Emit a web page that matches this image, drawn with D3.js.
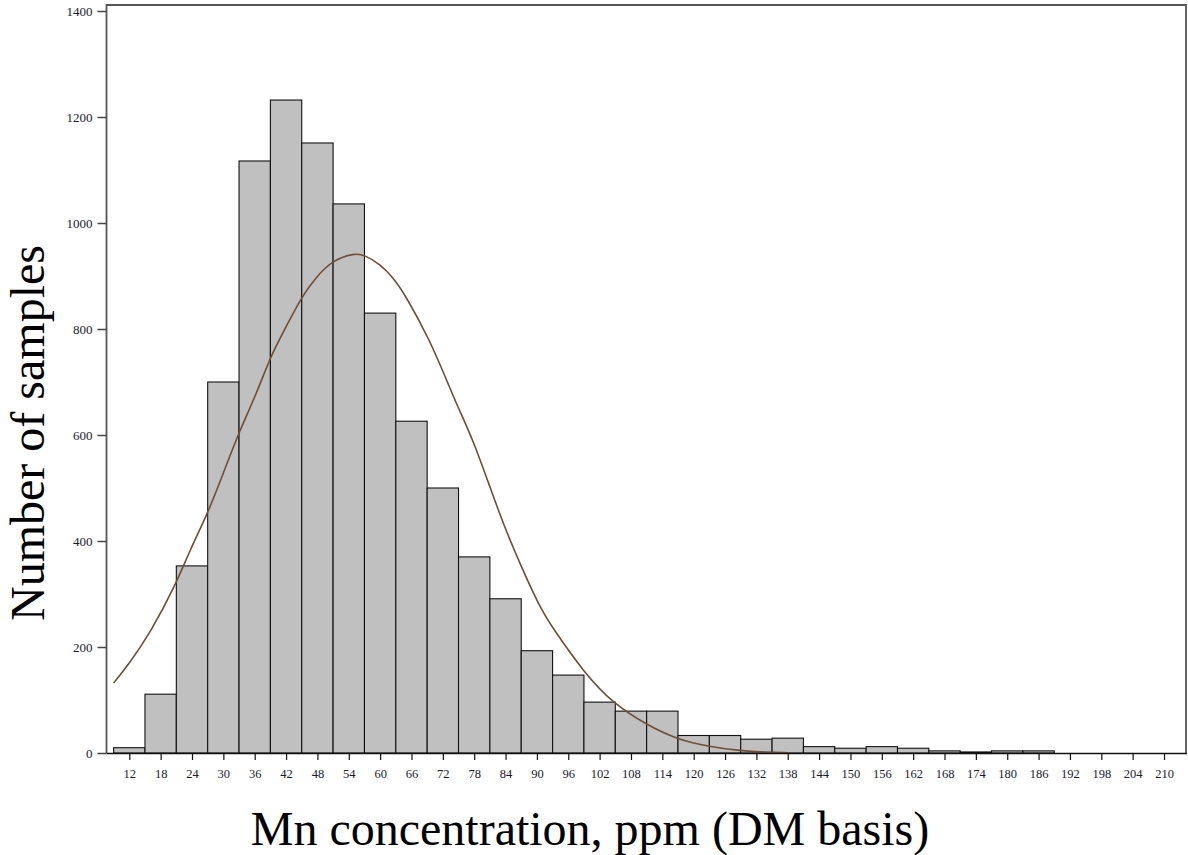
<!DOCTYPE html>
<html>
<head>
<meta charset="utf-8">
<script src="https://cdn.jsdelivr.net/npm/d3@7"></script>
<style>
  html, body { margin: 0; padding: 0; background: #fff; }
  svg { display: block; font-family: "Liberation Serif", "Times New Roman", serif; }
</style>
</head>
<body>
<svg id="chart" width="1188" height="855"></svg>
<script>
// bin centres (ppm) and counts
const binCenters = [12, 18, 24, 30, 36, 42, 48, 54, 60, 66, 72, 78, 84, 90, 96, 102, 108, 114,
  120, 126, 132, 138, 144, 150, 156, 162, 168, 174, 180, 186, 192, 198, 204, 210];
const counts = [10, 111, 353, 700, 1117, 1232, 1151, 1036, 830, 626, 500, 370, 291, 193, 147, 96, 79, 79,
  33, 33, 26, 28, 12, 9, 12, 9, 4, 2, 4, 4, 0, 0, 0, 0];

// fitted curve, points
const curveX = [9, 12, 16, 21, 23.6, 27, 30, 33, 36.4, 39, 42, 45, 47.8, 51, 55, 57, 60, 62.5, 65, 69.5, 72.7,
  75, 77.8, 81, 84, 87, 90.5, 93, 99, 104.5, 111, 117, 123, 129, 134, 138];
const curveY = [132, 169, 226, 320, 383, 452, 528, 606, 679, 748, 804, 861, 899, 930, 943, 940, 922, 897, 861, 779, 704,
  650, 590, 502, 421, 352, 276, 236, 152, 94, 53, 25, 12, 4, 1.5, 0.5];

const yTicks = [0, 200, 400, 600, 800, 1000, 1200, 1400];
const binWidth = 6;

const svg = d3.select("#chart");
const plotLeft = 106.5, plotRight = 1186, plotTop = 5, plotBottom = 753;

const x = d3.scaleLinear().domain([12, 210]).range([129.3, 1164]);
const y = d3.scaleLinear().domain([0, 1400]).range([plotBottom, 11]);

// bars
svg.append("g")
  .selectAll("rect")
  .data(binCenters.map((c, i) => ({c, n: counts[i]})).filter(d => d.n > 0))
  .join("rect")
  .attr("x", d => x(d.c - binWidth / 2))
  .attr("width", d => x(d.c + binWidth / 2) - x(d.c - binWidth / 2))
  .attr("y", d => y(d.n))
  .attr("height", d => y(0) - y(d.n))
  .attr("fill", "#c0c0c0")
  .attr("stroke", "#111")
  .attr("stroke-width", 1.1);

// curve
const line = d3.line()
  .x(d => x(d[0]))
  .y(d => y(d[1]))
  .curve(d3.curveBasis);

svg.append("path")
  .datum(curveX.map((v, i) => [v, curveY[i]]))
  .attr("d", line)
  .attr("fill", "none")
  .attr("stroke", "#6e4f33")
  .attr("stroke-width", 1.6);

// frame
svg.append("path")
  .attr("d", `M${plotLeft},${plotBottom}V${plotTop}H${plotRight}V${plotBottom}`)
  .attr("fill", "none")
  .attr("stroke", "#555")
  .attr("stroke-width", 1.8);

// x axis
const xAxis = d3.axisBottom(x)
  .tickValues(binCenters)
  .tickSize(7)
  .tickPadding(9)
  .tickSizeOuter(0);

const gx = svg.append("g")
  .attr("transform", `translate(0,${plotBottom})`)
  .call(xAxis);
gx.select(".domain").attr("d", `M${plotLeft},0.5H${plotRight + 1}`).attr("stroke", "#111").attr("stroke-width", 1.3);
gx.selectAll(".tick line").attr("stroke", "#111").attr("stroke-width", 1.2);
gx.selectAll(".tick text")
  .attr("font-family", "Liberation Serif, serif")
  .attr("font-size", 12.5)
  .attr("fill", "#1a1a2a");

// y axis
const yAxis = d3.axisLeft(y)
  .tickValues(yTicks)
  .tickFormat(d3.format("d"))
  .tickSize(9)
  .tickPadding(5)
  .tickSizeOuter(0);

const gy = svg.append("g")
  .attr("transform", `translate(${plotLeft},0)`)
  .call(yAxis);
gy.select(".domain").remove();
gy.selectAll(".tick line").attr("stroke", "#444").attr("stroke-width", 1.5);
gy.selectAll(".tick text")
  .attr("font-family", "Liberation Serif, serif")
  .attr("font-size", 13)
  .attr("fill", "#1a1a2a");

// axis titles
svg.append("text")
  .attr("x", 590)
  .attr("y", 845)
  .attr("text-anchor", "middle")
  .attr("font-size", 48)
  .attr("fill", "#000")
  .text("Mn concentration, ppm (DM basis)");

svg.append("text")
  .attr("transform", "translate(44,433) rotate(-90)")
  .attr("text-anchor", "middle")
  .attr("font-size", 48)
  .attr("fill", "#000")
  .text("Number of samples");
</script>
</body>
</html>
